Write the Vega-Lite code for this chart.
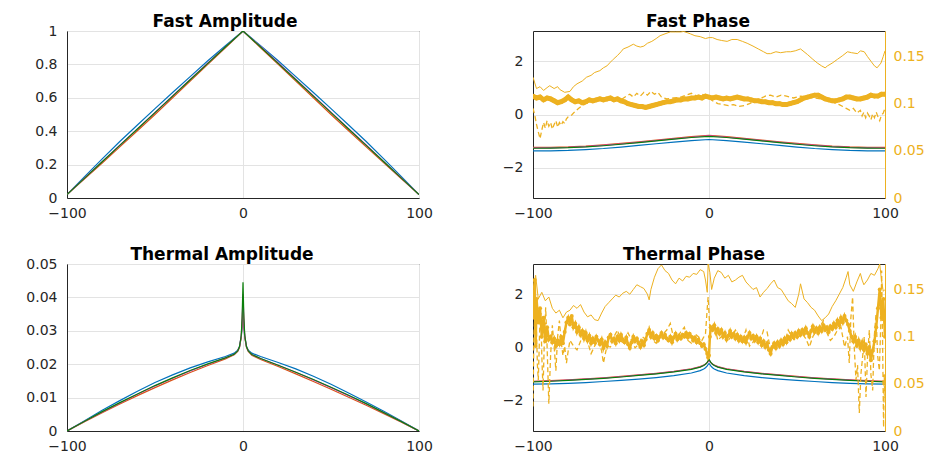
{
"$schema": "https://vega.github.io/schema/vega-lite/v6.json",
"background": "white",
"padding": {"left": 25, "top": 12, "right": 0, "bottom": 0},
"bounds": "flush",
"columns": 2,
"spacing": {"row": 66, "column": 114},
"config": {
  "view": {"stroke": "#262626", "strokeWidth": 1},
  "font": "DejaVu Sans",
  "axis": {"labelFont": "DejaVu Sans", "labelFontSize": 14, "labelColor": "#262626", "domainColor": "#262626", "ticks": false, "gridColor": "#e3e3e3", "gridWidth": 1, "labelPadding": 10},
  "axisX": {"labelPadding": 8},
  "title": {"font": "DejaVu Sans", "fontSize": 17, "fontWeight": "bold", "color": "#000000", "offset": 0}
},
"datasets": {
"fa": [
{"x":-100,"y":0.02,"s":"a"},{"x":-90,"y":0.128,"s":"a"},{"x":-80,"y":0.234,"s":"a"},{"x":-70,"y":0.338,"s":"a"},{"x":-60,"y":0.437,"s":"a"},{"x":-50,"y":0.535,"s":"a"},{"x":-40,"y":0.632,"s":"a"},{"x":-30,"y":0.727,"s":"a"},{"x":-20,"y":0.822,"s":"a"},{"x":-10,"y":0.912,"s":"a"},{"x":0,"y":1,"s":"a"},{"x":10,"y":0.912,"s":"a"},{"x":20,"y":0.822,"s":"a"},{"x":30,"y":0.727,"s":"a"},{"x":40,"y":0.632,"s":"a"},{"x":50,"y":0.535,"s":"a"},{"x":60,"y":0.437,"s":"a"},{"x":70,"y":0.338,"s":"a"},{"x":80,"y":0.234,"s":"a"},{"x":90,"y":0.128,"s":"a"},{"x":100,"y":0.02,"s":"a"},
{"x":-100,"y":0.02,"s":"b"},{"x":-90,"y":0.115,"s":"b"},{"x":-80,"y":0.21,"s":"b"},{"x":-70,"y":0.306,"s":"b"},{"x":-60,"y":0.403,"s":"b"},{"x":-50,"y":0.5,"s":"b"},{"x":-40,"y":0.6,"s":"b"},{"x":-30,"y":0.7,"s":"b"},{"x":-20,"y":0.8,"s":"b"},{"x":-10,"y":0.9,"s":"b"},{"x":0,"y":1,"s":"b"},{"x":10,"y":0.9,"s":"b"},{"x":20,"y":0.8,"s":"b"},{"x":30,"y":0.7,"s":"b"},{"x":40,"y":0.6,"s":"b"},{"x":50,"y":0.5,"s":"b"},{"x":60,"y":0.403,"s":"b"},{"x":70,"y":0.306,"s":"b"},{"x":80,"y":0.21,"s":"b"},{"x":90,"y":0.115,"s":"b"},{"x":100,"y":0.02,"s":"b"},
{"x":-100,"y":0.02,"s":"c"},{"x":-90,"y":0.12,"s":"c"},{"x":-80,"y":0.218,"s":"c"},{"x":-70,"y":0.316,"s":"c"},{"x":-60,"y":0.414,"s":"c"},{"x":-50,"y":0.512,"s":"c"},{"x":-40,"y":0.611,"s":"c"},{"x":-30,"y":0.71,"s":"c"},{"x":-20,"y":0.808,"s":"c"},{"x":-10,"y":0.905,"s":"c"},{"x":0,"y":1,"s":"c"},{"x":10,"y":0.907,"s":"c"},{"x":20,"y":0.81,"s":"c"},{"x":30,"y":0.712,"s":"c"},{"x":40,"y":0.613,"s":"c"},{"x":50,"y":0.514,"s":"c"},{"x":60,"y":0.415,"s":"c"},{"x":70,"y":0.317,"s":"c"},{"x":80,"y":0.218,"s":"c"},{"x":90,"y":0.12,"s":"c"},{"x":100,"y":0.02,"s":"c"},
{"x":-100,"y":0.02,"s":"d"},{"x":-90,"y":0.119,"s":"d"},{"x":-80,"y":0.217,"s":"d"},{"x":-70,"y":0.315,"s":"d"},{"x":-60,"y":0.413,"s":"d"},{"x":-50,"y":0.511,"s":"d"},{"x":-40,"y":0.61,"s":"d"},{"x":-30,"y":0.708,"s":"d"},{"x":-20,"y":0.806,"s":"d"},{"x":-10,"y":0.904,"s":"d"},{"x":0,"y":1,"s":"d"},{"x":10,"y":0.904,"s":"d"},{"x":20,"y":0.806,"s":"d"},{"x":30,"y":0.708,"s":"d"},{"x":40,"y":0.61,"s":"d"},{"x":50,"y":0.511,"s":"d"},{"x":60,"y":0.413,"s":"d"},{"x":70,"y":0.315,"s":"d"},{"x":80,"y":0.217,"s":"d"},{"x":90,"y":0.119,"s":"d"},{"x":100,"y":0.02,"s":"d"}
],
"ta": [
{"x":-100,"y":0,"s":"a"},{"x":-90,"y":0.0031,"s":"a"},{"x":-80,"y":0.0062,"s":"a"},{"x":-70,"y":0.0091,"s":"a"},{"x":-60,"y":0.0119,"s":"a"},{"x":-50,"y":0.0145,"s":"a"},{"x":-40,"y":0.0168,"s":"a"},{"x":-30,"y":0.0189,"s":"a"},{"x":-20,"y":0.0207,"s":"a"},{"x":-10,"y":0.0223,"s":"a"},{"x":-5,"y":0.0233,"s":"a"},{"x":-3,"y":0.0242,"s":"a"},{"x":-2,"y":0.0253,"s":"a"},{"x":-1,"y":0.0282,"s":"a"},{"x":-0.5,"y":0.031,"s":"a"},{"x":0,"y":0.036,"s":"a"},{"x":0.5,"y":0.031,"s":"a"},{"x":1,"y":0.0282,"s":"a"},{"x":2,"y":0.0253,"s":"a"},{"x":3,"y":0.0242,"s":"a"},{"x":5,"y":0.0233,"s":"a"},{"x":10,"y":0.0223,"s":"a"},{"x":20,"y":0.0205,"s":"a"},{"x":30,"y":0.0186,"s":"a"},{"x":40,"y":0.0164,"s":"a"},{"x":50,"y":0.014,"s":"a"},{"x":60,"y":0.0114,"s":"a"},{"x":70,"y":0.0087,"s":"a"},{"x":80,"y":0.0059,"s":"a"},{"x":90,"y":0.003,"s":"a"},{"x":100,"y":0,"s":"a"},
{"x":-100,"y":0,"s":"b"},{"x":-90,"y":0.0028,"s":"b"},{"x":-80,"y":0.0055,"s":"b"},{"x":-70,"y":0.0081,"s":"b"},{"x":-60,"y":0.0106,"s":"b"},{"x":-50,"y":0.013,"s":"b"},{"x":-40,"y":0.0153,"s":"b"},{"x":-30,"y":0.0175,"s":"b"},{"x":-20,"y":0.0196,"s":"b"},{"x":-10,"y":0.0216,"s":"b"},{"x":-5,"y":0.0228,"s":"b"},{"x":-3,"y":0.0238,"s":"b"},{"x":-2,"y":0.025,"s":"b"},{"x":-1,"y":0.028,"s":"b"},{"x":-0.5,"y":0.032,"s":"b"},{"x":0,"y":0.039,"s":"b"},{"x":0.5,"y":0.032,"s":"b"},{"x":1,"y":0.028,"s":"b"},{"x":2,"y":0.025,"s":"b"},{"x":3,"y":0.0238,"s":"b"},{"x":5,"y":0.0227,"s":"b"},{"x":10,"y":0.0214,"s":"b"},{"x":20,"y":0.0193,"s":"b"},{"x":30,"y":0.0171,"s":"b"},{"x":40,"y":0.0148,"s":"b"},{"x":50,"y":0.0125,"s":"b"},{"x":60,"y":0.0101,"s":"b"},{"x":70,"y":0.0077,"s":"b"},{"x":80,"y":0.0052,"s":"b"},{"x":90,"y":0.0026,"s":"b"},{"x":100,"y":0,"s":"b"},
{"x":-100,"y":0,"s":"c"},{"x":-90,"y":0.0029,"s":"c"},{"x":-80,"y":0.0057,"s":"c"},{"x":-70,"y":0.0084,"s":"c"},{"x":-60,"y":0.011,"s":"c"},{"x":-50,"y":0.0135,"s":"c"},{"x":-40,"y":0.0158,"s":"c"},{"x":-30,"y":0.018,"s":"c"},{"x":-20,"y":0.02,"s":"c"},{"x":-10,"y":0.0219,"s":"c"},{"x":-5,"y":0.023,"s":"c"},{"x":-3,"y":0.024,"s":"c"},{"x":-2,"y":0.0252,"s":"c"},{"x":-1,"y":0.0284,"s":"c"},{"x":-0.5,"y":0.033,"s":"c"},{"x":0,"y":0.041,"s":"c"},{"x":0.5,"y":0.033,"s":"c"},{"x":1,"y":0.0284,"s":"c"},{"x":2,"y":0.0252,"s":"c"},{"x":3,"y":0.024,"s":"c"},{"x":5,"y":0.0229,"s":"c"},{"x":10,"y":0.0217,"s":"c"},{"x":20,"y":0.0197,"s":"c"},{"x":30,"y":0.0176,"s":"c"},{"x":40,"y":0.0153,"s":"c"},{"x":50,"y":0.013,"s":"c"},{"x":60,"y":0.0106,"s":"c"},{"x":70,"y":0.0081,"s":"c"},{"x":80,"y":0.0055,"s":"c"},{"x":90,"y":0.0028,"s":"c"},{"x":100,"y":0,"s":"c"},
{"x":-100,"y":0,"s":"d"},{"x":-90,"y":0.0029,"s":"d"},{"x":-80,"y":0.0058,"s":"d"},{"x":-70,"y":0.0085,"s":"d"},{"x":-60,"y":0.0111,"s":"d"},{"x":-50,"y":0.0136,"s":"d"},{"x":-40,"y":0.0159,"s":"d"},{"x":-30,"y":0.0181,"s":"d"},{"x":-20,"y":0.0201,"s":"d"},{"x":-10,"y":0.0219,"s":"d"},{"x":-5,"y":0.023,"s":"d"},{"x":-3,"y":0.024,"s":"d"},{"x":-2,"y":0.0252,"s":"d"},{"x":-1,"y":0.0286,"s":"d"},{"x":-0.5,"y":0.034,"s":"d"},{"x":0,"y":0.0445,"s":"d"},{"x":0.5,"y":0.034,"s":"d"},{"x":1,"y":0.0286,"s":"d"},{"x":2,"y":0.0252,"s":"d"},{"x":3,"y":0.024,"s":"d"},{"x":5,"y":0.0229,"s":"d"},{"x":10,"y":0.0217,"s":"d"},{"x":20,"y":0.0197,"s":"d"},{"x":30,"y":0.0176,"s":"d"},{"x":40,"y":0.0154,"s":"d"},{"x":50,"y":0.0131,"s":"d"},{"x":60,"y":0.0107,"s":"d"},{"x":70,"y":0.0082,"s":"d"},{"x":80,"y":0.0055,"s":"d"},{"x":90,"y":0.0028,"s":"d"},{"x":100,"y":0,"s":"d"}
],
"fp": [
{"x":-100,"y":-1.37,"s":"a"},{"x":-90,"y":-1.365,"s":"a"},{"x":-80,"y":-1.35,"s":"a"},{"x":-70,"y":-1.32,"s":"a"},{"x":-60,"y":-1.28,"s":"a"},{"x":-50,"y":-1.225,"s":"a"},{"x":-40,"y":-1.165,"s":"a"},{"x":-30,"y":-1.1,"s":"a"},{"x":-20,"y":-1.04,"s":"a"},{"x":-10,"y":-0.98,"s":"a"},{"x":0,"y":-0.94,"s":"a"},{"x":10,"y":-0.98,"s":"a"},{"x":20,"y":-1.04,"s":"a"},{"x":30,"y":-1.1,"s":"a"},{"x":40,"y":-1.165,"s":"a"},{"x":50,"y":-1.225,"s":"a"},{"x":60,"y":-1.28,"s":"a"},{"x":70,"y":-1.32,"s":"a"},{"x":80,"y":-1.35,"s":"a"},{"x":90,"y":-1.365,"s":"a"},{"x":100,"y":-1.37,"s":"a"},
{"x":-100,"y":-1.24,"s":"b"},{"x":-90,"y":-1.235,"s":"b"},{"x":-80,"y":-1.22,"s":"b"},{"x":-70,"y":-1.19,"s":"b"},{"x":-60,"y":-1.145,"s":"b"},{"x":-50,"y":-1.09,"s":"b"},{"x":-40,"y":-1.03,"s":"b"},{"x":-30,"y":-0.965,"s":"b"},{"x":-20,"y":-0.9,"s":"b"},{"x":-10,"y":-0.835,"s":"b"},{"x":0,"y":-0.78,"s":"b"},{"x":10,"y":-0.835,"s":"b"},{"x":20,"y":-0.9,"s":"b"},{"x":30,"y":-0.965,"s":"b"},{"x":40,"y":-1.03,"s":"b"},{"x":50,"y":-1.09,"s":"b"},{"x":60,"y":-1.145,"s":"b"},{"x":70,"y":-1.19,"s":"b"},{"x":80,"y":-1.22,"s":"b"},{"x":90,"y":-1.235,"s":"b"},{"x":100,"y":-1.24,"s":"b"},
{"x":-100,"y":-1.26,"s":"c"},{"x":-90,"y":-1.255,"s":"c"},{"x":-80,"y":-1.24,"s":"c"},{"x":-70,"y":-1.21,"s":"c"},{"x":-60,"y":-1.165,"s":"c"},{"x":-50,"y":-1.11,"s":"c"},{"x":-40,"y":-1.05,"s":"c"},{"x":-30,"y":-0.985,"s":"c"},{"x":-20,"y":-0.92,"s":"c"},{"x":-10,"y":-0.855,"s":"c"},{"x":0,"y":-0.8,"s":"c"},{"x":10,"y":-0.855,"s":"c"},{"x":20,"y":-0.92,"s":"c"},{"x":30,"y":-0.985,"s":"c"},{"x":40,"y":-1.05,"s":"c"},{"x":50,"y":-1.11,"s":"c"},{"x":60,"y":-1.165,"s":"c"},{"x":70,"y":-1.21,"s":"c"},{"x":80,"y":-1.24,"s":"c"},{"x":90,"y":-1.255,"s":"c"},{"x":100,"y":-1.26,"s":"c"},
{"x":-100,"y":-1.27,"s":"d"},{"x":-90,"y":-1.265,"s":"d"},{"x":-80,"y":-1.25,"s":"d"},{"x":-70,"y":-1.22,"s":"d"},{"x":-60,"y":-1.175,"s":"d"},{"x":-50,"y":-1.12,"s":"d"},{"x":-40,"y":-1.06,"s":"d"},{"x":-30,"y":-0.995,"s":"d"},{"x":-20,"y":-0.93,"s":"d"},{"x":-10,"y":-0.865,"s":"d"},{"x":0,"y":-0.82,"s":"d"},{"x":10,"y":-0.865,"s":"d"},{"x":20,"y":-0.93,"s":"d"},{"x":30,"y":-0.995,"s":"d"},{"x":40,"y":-1.06,"s":"d"},{"x":50,"y":-1.12,"s":"d"},{"x":60,"y":-1.175,"s":"d"},{"x":70,"y":-1.22,"s":"d"},{"x":80,"y":-1.25,"s":"d"},{"x":90,"y":-1.265,"s":"d"},{"x":100,"y":-1.27,"s":"d"}
],
"tp": [
{"x":-100,"y":-1.38,"s":"a"},{"x":-90,"y":-1.37,"s":"a"},{"x":-80,"y":-1.35,"s":"a"},{"x":-70,"y":-1.32,"s":"a"},{"x":-60,"y":-1.28,"s":"a"},{"x":-50,"y":-1.24,"s":"a"},{"x":-40,"y":-1.19,"s":"a"},{"x":-30,"y":-1.13,"s":"a"},{"x":-20,"y":-1.06,"s":"a"},{"x":-10,"y":-0.96,"s":"a"},{"x":-5,"y":-0.87,"s":"a"},{"x":-3,"y":-0.81,"s":"a"},{"x":-2,"y":-0.76,"s":"a"},{"x":-1,"y":-0.69,"s":"a"},{"x":-0.5,"y":-0.64,"s":"a"},{"x":0,"y":-0.6,"s":"a"},{"x":0.5,"y":-0.64,"s":"a"},{"x":1,"y":-0.69,"s":"a"},{"x":2,"y":-0.76,"s":"a"},{"x":3,"y":-0.81,"s":"a"},{"x":5,"y":-0.87,"s":"a"},{"x":10,"y":-0.96,"s":"a"},{"x":20,"y":-1.06,"s":"a"},{"x":30,"y":-1.13,"s":"a"},{"x":40,"y":-1.19,"s":"a"},{"x":50,"y":-1.24,"s":"a"},{"x":60,"y":-1.28,"s":"a"},{"x":70,"y":-1.32,"s":"a"},{"x":80,"y":-1.35,"s":"a"},{"x":90,"y":-1.37,"s":"a"},{"x":100,"y":-1.38,"s":"a"},
{"x":-100,"y":-1.27,"s":"b"},{"x":-90,"y":-1.25,"s":"b"},{"x":-80,"y":-1.22,"s":"b"},{"x":-70,"y":-1.18,"s":"b"},{"x":-60,"y":-1.14,"s":"b"},{"x":-50,"y":-1.09,"s":"b"},{"x":-40,"y":-1.03,"s":"b"},{"x":-30,"y":-0.97,"s":"b"},{"x":-20,"y":-0.9,"s":"b"},{"x":-10,"y":-0.8,"s":"b"},{"x":-5,"y":-0.72,"s":"b"},{"x":-3,"y":-0.66,"s":"b"},{"x":-2,"y":-0.62,"s":"b"},{"x":-1,"y":-0.56,"s":"b"},{"x":-0.5,"y":-0.52,"s":"b"},{"x":0,"y":-0.48,"s":"b"},{"x":0.5,"y":-0.52,"s":"b"},{"x":1,"y":-0.56,"s":"b"},{"x":2,"y":-0.62,"s":"b"},{"x":3,"y":-0.66,"s":"b"},{"x":5,"y":-0.72,"s":"b"},{"x":10,"y":-0.8,"s":"b"},{"x":20,"y":-0.9,"s":"b"},{"x":30,"y":-0.97,"s":"b"},{"x":40,"y":-1.03,"s":"b"},{"x":50,"y":-1.09,"s":"b"},{"x":60,"y":-1.14,"s":"b"},{"x":70,"y":-1.18,"s":"b"},{"x":80,"y":-1.22,"s":"b"},{"x":90,"y":-1.25,"s":"b"},{"x":100,"y":-1.27,"s":"b"},
{"x":-100,"y":-1.28,"s":"c"},{"x":-90,"y":-1.26,"s":"c"},{"x":-80,"y":-1.23,"s":"c"},{"x":-70,"y":-1.19,"s":"c"},{"x":-60,"y":-1.15,"s":"c"},{"x":-50,"y":-1.1,"s":"c"},{"x":-40,"y":-1.04,"s":"c"},{"x":-30,"y":-0.98,"s":"c"},{"x":-20,"y":-0.91,"s":"c"},{"x":-10,"y":-0.81,"s":"c"},{"x":-5,"y":-0.73,"s":"c"},{"x":-3,"y":-0.67,"s":"c"},{"x":-2,"y":-0.63,"s":"c"},{"x":-1,"y":-0.57,"s":"c"},{"x":-0.5,"y":-0.52,"s":"c"},{"x":0,"y":-0.48,"s":"c"},{"x":0.5,"y":-0.52,"s":"c"},{"x":1,"y":-0.57,"s":"c"},{"x":2,"y":-0.63,"s":"c"},{"x":3,"y":-0.67,"s":"c"},{"x":5,"y":-0.73,"s":"c"},{"x":10,"y":-0.81,"s":"c"},{"x":20,"y":-0.91,"s":"c"},{"x":30,"y":-0.98,"s":"c"},{"x":40,"y":-1.04,"s":"c"},{"x":50,"y":-1.1,"s":"c"},{"x":60,"y":-1.15,"s":"c"},{"x":70,"y":-1.19,"s":"c"},{"x":80,"y":-1.23,"s":"c"},{"x":90,"y":-1.26,"s":"c"},{"x":100,"y":-1.28,"s":"c"},
{"x":-100,"y":-1.29,"s":"d"},{"x":-90,"y":-1.27,"s":"d"},{"x":-80,"y":-1.24,"s":"d"},{"x":-70,"y":-1.2,"s":"d"},{"x":-60,"y":-1.16,"s":"d"},{"x":-50,"y":-1.11,"s":"d"},{"x":-40,"y":-1.05,"s":"d"},{"x":-30,"y":-0.99,"s":"d"},{"x":-20,"y":-0.92,"s":"d"},{"x":-10,"y":-0.82,"s":"d"},{"x":-5,"y":-0.74,"s":"d"},{"x":-3,"y":-0.68,"s":"d"},{"x":-2,"y":-0.63,"s":"d"},{"x":-1,"y":-0.56,"s":"d"},{"x":-0.5,"y":-0.5,"s":"d"},{"x":0,"y":-0.45,"s":"d"},{"x":0.5,"y":-0.5,"s":"d"},{"x":1,"y":-0.56,"s":"d"},{"x":2,"y":-0.63,"s":"d"},{"x":3,"y":-0.68,"s":"d"},{"x":5,"y":-0.74,"s":"d"},{"x":10,"y":-0.82,"s":"d"},{"x":20,"y":-0.92,"s":"d"},{"x":30,"y":-0.99,"s":"d"},{"x":40,"y":-1.05,"s":"d"},{"x":50,"y":-1.11,"s":"d"},{"x":60,"y":-1.16,"s":"d"},{"x":70,"y":-1.2,"s":"d"},{"x":80,"y":-1.24,"s":"d"},{"x":90,"y":-1.27,"s":"d"},{"x":100,"y":-1.29,"s":"d"}
],
"fpThin": [
{"x":-100,"v":0.128},{"x":-99,"v":0.122},{"x":-98,"v":0.116},{"x":-96,"v":0.118},{"x":-94,"v":0.114},{"x":-92,"v":0.117},{"x":-90.5,"v":0.119},{"x":-88,"v":0.116},{"x":-86,"v":0.118},{"x":-84.8,"v":0.115},{"x":-82,"v":0.112},{"x":-79,"v":0.113},{"x":-77,"v":0.118},{"x":-75,"v":0.121},{"x":-72,"v":0.124},{"x":-69.6,"v":0.128},{"x":-67,"v":0.13},{"x":-65,"v":0.133},{"x":-62,"v":0.135},{"x":-60,"v":0.138},{"x":-58,"v":0.14},{"x":-56,"v":0.144},{"x":-54.4,"v":0.147},{"x":-52,"v":0.151},{"x":-50,"v":0.155},{"x":-48.7,"v":0.158},{"x":-46,"v":0.16},{"x":-43,"v":0.163},{"x":-41,"v":0.161},{"x":-39,"v":0.16},{"x":-37,"v":0.161},{"x":-35,"v":0.164},{"x":-32.5,"v":0.166},{"x":-30,"v":0.169},{"x":-27.8,"v":0.172},{"x":-25,"v":0.174},{"x":-22,"v":0.176},{"x":-19,"v":0.176},{"x":-16,"v":0.176},{"x":-14.4,"v":0.1765},{"x":-12,"v":0.175},{"x":-10.6,"v":0.174},{"x":-8,"v":0.172},{"x":-5,"v":0.171},{"x":-2,"v":0.169},{"x":0,"v":0.17},{"x":2,"v":0.17},{"x":4.6,"v":0.168},{"x":7,"v":0.167},{"x":10.3,"v":0.166},{"x":13,"v":0.168},{"x":16,"v":0.168},{"x":19,"v":0.166},{"x":21.7,"v":0.164},{"x":25,"v":0.161},{"x":28,"v":0.158},{"x":31,"v":0.155},{"x":33,"v":0.153},{"x":35,"v":0.153},{"x":38,"v":0.155},{"x":40.7,"v":0.154},{"x":44,"v":0.155},{"x":46.4,"v":0.155},{"x":49,"v":0.156},{"x":52,"v":0.158},{"x":54,"v":0.155},{"x":56,"v":0.152},{"x":59,"v":0.147},{"x":61.6,"v":0.143},{"x":64,"v":0.14},{"x":66,"v":0.138},{"x":67.3,"v":0.14},{"x":70,"v":0.143},{"x":73,"v":0.147},{"x":76,"v":0.151},{"x":78.7,"v":0.155},{"x":81,"v":0.154},{"x":84.4,"v":0.153},{"x":86,"v":0.156},{"x":88.2,"v":0.155},{"x":90,"v":0.15},{"x":92,"v":0.145},{"x":94,"v":0.14},{"x":95.5,"v":0.138},{"x":97.7,"v":0.143},{"x":99,"v":0.15},{"x":100,"v":0.156}
],
"fpThick": [
{"x":-100,"v":0.108},{"x":-98,"v":0.106},{"x":-96,"v":0.107},{"x":-94,"v":0.104},{"x":-92,"v":0.106},{"x":-90,"v":0.105},{"x":-88,"v":0.103},{"x":-86,"v":0.101},{"x":-84,"v":0.102},{"x":-82,"v":0.104},{"x":-80,"v":0.107},{"x":-78,"v":0.104},{"x":-76,"v":0.102},{"x":-74,"v":0.103},{"x":-72,"v":0.101},{"x":-70,"v":0.102},{"x":-68,"v":0.104},{"x":-66,"v":0.103},{"x":-64,"v":0.104},{"x":-62,"v":0.105},{"x":-60,"v":0.104},{"x":-58,"v":0.105},{"x":-56,"v":0.106},{"x":-54,"v":0.104},{"x":-52,"v":0.105},{"x":-50,"v":0.103},{"x":-48,"v":0.102},{"x":-46,"v":0.1},{"x":-44,"v":0.099},{"x":-42,"v":0.098},{"x":-40,"v":0.097},{"x":-38,"v":0.097},{"x":-36,"v":0.096},{"x":-34,"v":0.097},{"x":-32,"v":0.098},{"x":-30,"v":0.099},{"x":-28,"v":0.1},{"x":-26,"v":0.101},{"x":-24,"v":0.102},{"x":-22,"v":0.102},{"x":-20,"v":0.103},{"x":-18,"v":0.104},{"x":-16,"v":0.104},{"x":-14,"v":0.105},{"x":-12,"v":0.105},{"x":-10,"v":0.106},{"x":-8,"v":0.106},{"x":-6,"v":0.107},{"x":-4,"v":0.106},{"x":-2,"v":0.108},{"x":0,"v":0.107},{"x":2,"v":0.106},{"x":4,"v":0.107},{"x":6,"v":0.106},{"x":8,"v":0.105},{"x":10,"v":0.106},{"x":12,"v":0.105},{"x":14,"v":0.106},{"x":16,"v":0.107},{"x":18,"v":0.106},{"x":20,"v":0.105},{"x":22,"v":0.105},{"x":24,"v":0.104},{"x":26,"v":0.103},{"x":28,"v":0.103},{"x":30,"v":0.102},{"x":32,"v":0.102},{"x":34,"v":0.101},{"x":36,"v":0.101},{"x":38,"v":0.1},{"x":40,"v":0.1},{"x":42,"v":0.099},{"x":44,"v":0.099},{"x":46,"v":0.1},{"x":48,"v":0.101},{"x":50,"v":0.102},{"x":52,"v":0.104},{"x":54,"v":0.106},{"x":56,"v":0.107},{"x":58,"v":0.108},{"x":60,"v":0.109},{"x":62,"v":0.109},{"x":64,"v":0.107},{"x":66,"v":0.105},{"x":68,"v":0.104},{"x":70,"v":0.103},{"x":72,"v":0.103},{"x":74,"v":0.104},{"x":76,"v":0.105},{"x":78,"v":0.107},{"x":80,"v":0.107},{"x":82,"v":0.106},{"x":84,"v":0.105},{"x":86,"v":0.105},{"x":88,"v":0.106},{"x":90,"v":0.107},{"x":92,"v":0.109},{"x":94,"v":0.108},{"x":96,"v":0.108},{"x":98,"v":0.11},{"x":100,"v":0.11}
],
"fpDash": [
{"x":-100,"v":0.095},{"x":-99,"v":0.088},{"x":-98,"v":0.078},{"x":-97,"v":0.07},{"x":-96,"v":0.063},{"x":-95,"v":0.072},{"x":-94,"v":0.08},{"x":-93,"v":0.074},{"x":-92,"v":0.082},{"x":-91,"v":0.076},{"x":-90,"v":0.08},{"x":-89,"v":0.073},{"x":-88,"v":0.078},{"x":-87,"v":0.082},{"x":-86,"v":0.075},{"x":-85,"v":0.08},{"x":-84,"v":0.077},{"x":-83,"v":0.081},{"x":-82,"v":0.079},{"x":-81,"v":0.084},{"x":-80,"v":0.086},{"x":-78,"v":0.088},{"x":-76,"v":0.092},{"x":-74,"v":0.095},{"x":-72,"v":0.098},{"x":-70,"v":0.1},{"x":-66,"v":0.102},{"x":-62,"v":0.104},{"x":-58,"v":0.103},{"x":-54,"v":0.105},{"x":-50,"v":0.104},{"x":-47,"v":0.108},{"x":-45,"v":0.11},{"x":-43,"v":0.107},{"x":-41,"v":0.111},{"x":-39,"v":0.108},{"x":-37,"v":0.112},{"x":-35,"v":0.109},{"x":-33,"v":0.113},{"x":-31,"v":0.11},{"x":-29,"v":0.112},{"x":-27,"v":0.107},{"x":-24,"v":0.105},{"x":-20,"v":0.106},{"x":-16,"v":0.107},{"x":-13,"v":0.109},{"x":-10,"v":0.111},{"x":-7,"v":0.108},{"x":-4,"v":0.11},{"x":-1,"v":0.107},{"x":2,"v":0.103},{"x":5,"v":0.1},{"x":8,"v":0.099},{"x":11,"v":0.098},{"x":14,"v":0.099},{"x":17,"v":0.097},{"x":20,"v":0.098},{"x":23,"v":0.1},{"x":26,"v":0.103},{"x":29,"v":0.105},{"x":32,"v":0.108},{"x":35,"v":0.109},{"x":38,"v":0.107},{"x":41,"v":0.109},{"x":44,"v":0.108},{"x":48,"v":0.106},{"x":52,"v":0.108},{"x":56,"v":0.107},{"x":60,"v":0.106},{"x":64,"v":0.105},{"x":68,"v":0.104},{"x":71,"v":0.101},{"x":74,"v":0.099},{"x":76,"v":0.097},{"x":78,"v":0.095},{"x":80,"v":0.093},{"x":82,"v":0.095},{"x":84,"v":0.09},{"x":86,"v":0.093},{"x":87,"v":0.087},{"x":88,"v":0.091},{"x":89,"v":0.085},{"x":90,"v":0.09},{"x":91,"v":0.087},{"x":92,"v":0.083},{"x":93,"v":0.089},{"x":94,"v":0.085},{"x":95,"v":0.091},{"x":96,"v":0.086},{"x":97,"v":0.082},{"x":98,"v":0.088},{"x":99,"v":0.09},{"x":100,"v":0.095}
],
"tpThin": [
{"x":-100,"v":0.15},{"x":-98.5,"v":0.165},{"x":-97,"v":0.14},{"x":-95,"v":0.147},{"x":-93,"v":0.138},{"x":-91,"v":0.142},{"x":-89,"v":0.13},{"x":-87,"v":0.125},{"x":-85,"v":0.128},{"x":-83,"v":0.12},{"x":-81,"v":0.126},{"x":-79,"v":0.128},{"x":-77,"v":0.133},{"x":-75,"v":0.13},{"x":-73,"v":0.134},{"x":-71,"v":0.126},{"x":-69,"v":0.121},{"x":-67,"v":0.123},{"x":-65,"v":0.118},{"x":-63,"v":0.117},{"x":-61,"v":0.125},{"x":-59,"v":0.132},{"x":-57,"v":0.136},{"x":-55,"v":0.14},{"x":-53,"v":0.144},{"x":-51,"v":0.142},{"x":-49,"v":0.146},{"x":-47,"v":0.148},{"x":-45,"v":0.145},{"x":-43,"v":0.15},{"x":-41,"v":0.155},{"x":-39,"v":0.153},{"x":-37,"v":0.151},{"x":-35,"v":0.145},{"x":-34,"v":0.139},{"x":-33,"v":0.15},{"x":-31,"v":0.163},{"x":-29,"v":0.172},{"x":-27,"v":0.176},{"x":-25,"v":0.17},{"x":-23,"v":0.167},{"x":-21,"v":0.16},{"x":-19,"v":0.156},{"x":-17,"v":0.162},{"x":-15,"v":0.159},{"x":-13,"v":0.164},{"x":-11,"v":0.163},{"x":-9,"v":0.167},{"x":-7,"v":0.166},{"x":-5,"v":0.171},{"x":-3,"v":0.169},{"x":-2,"v":0.16},{"x":-1,"v":0.147},{"x":-0.5,"v":0.177},{"x":0.5,"v":0.168},{"x":1.5,"v":0.15},{"x":3,"v":0.162},{"x":5,"v":0.17},{"x":7,"v":0.168},{"x":9,"v":0.162},{"x":11,"v":0.165},{"x":13,"v":0.158},{"x":15,"v":0.16},{"x":17,"v":0.163},{"x":19,"v":0.165},{"x":21,"v":0.158},{"x":23,"v":0.154},{"x":25,"v":0.15},{"x":27,"v":0.152},{"x":29,"v":0.142},{"x":31,"v":0.147},{"x":33,"v":0.151},{"x":35,"v":0.156},{"x":37,"v":0.16},{"x":39,"v":0.152},{"x":41,"v":0.15},{"x":43,"v":0.144},{"x":45,"v":0.138},{"x":47,"v":0.135},{"x":49,"v":0.131},{"x":51,"v":0.145},{"x":52,"v":0.156},{"x":54,"v":0.14},{"x":56,"v":0.136},{"x":58,"v":0.131},{"x":60,"v":0.128},{"x":62,"v":0.122},{"x":64,"v":0.117},{"x":66,"v":0.12},{"x":68,"v":0.124},{"x":70,"v":0.132},{"x":72,"v":0.138},{"x":74,"v":0.145},{"x":76,"v":0.152},{"x":78,"v":0.163},{"x":79,"v":0.169},{"x":80,"v":0.155},{"x":82,"v":0.148},{"x":84,"v":0.158},{"x":86,"v":0.167},{"x":87,"v":0.16},{"x":88,"v":0.155},{"x":90,"v":0.16},{"x":92,"v":0.167},{"x":94,"v":0.165},{"x":96,"v":0.172},{"x":97,"v":0.177},{"x":98,"v":0.16},{"x":99,"v":0.148},{"x":100,"v":0.15}
],
"tpThick": [
{"x":-100,"v":0.12},{"x":-99,"v":0.16},{"x":-98.5,"v":0.09},{"x":-98,"v":0.14},{"x":-97,"v":0.115},{"x":-96,"v":0.13},{"x":-95,"v":0.1},{"x":-94,"v":0.12},{"x":-93,"v":0.095},{"x":-92,"v":0.11},{"x":-91,"v":0.097},{"x":-90,"v":0.1},{"x":-89,"v":0.094},{"x":-88,"v":0.098},{"x":-87,"v":0.09},{"x":-86,"v":0.096},{"x":-85,"v":0.092},{"x":-84,"v":0.1},{"x":-83,"v":0.093},{"x":-82,"v":0.105},{"x":-81,"v":0.115},{"x":-80,"v":0.12},{"x":-79,"v":0.113},{"x":-78,"v":0.122},{"x":-77,"v":0.11},{"x":-76,"v":0.114},{"x":-75,"v":0.105},{"x":-74,"v":0.11},{"x":-73,"v":0.102},{"x":-72,"v":0.106},{"x":-71,"v":0.098},{"x":-70,"v":0.104},{"x":-69,"v":0.096},{"x":-68,"v":0.101},{"x":-67,"v":0.093},{"x":-66,"v":0.098},{"x":-65,"v":0.094},{"x":-64,"v":0.1},{"x":-63,"v":0.096},{"x":-62,"v":0.092},{"x":-61,"v":0.097},{"x":-60,"v":0.088},{"x":-59,"v":0.094},{"x":-58,"v":0.09},{"x":-57,"v":0.099},{"x":-56,"v":0.102},{"x":-55,"v":0.095},{"x":-54,"v":0.098},{"x":-53,"v":0.093},{"x":-52,"v":0.1},{"x":-51,"v":0.096},{"x":-50,"v":0.102},{"x":-49,"v":0.097},{"x":-48,"v":0.094},{"x":-47,"v":0.099},{"x":-46,"v":0.092},{"x":-45,"v":0.088},{"x":-44,"v":0.094},{"x":-43,"v":0.1},{"x":-42,"v":0.095},{"x":-41,"v":0.098},{"x":-40,"v":0.093},{"x":-39,"v":0.089},{"x":-38,"v":0.095},{"x":-37,"v":0.091},{"x":-36,"v":0.097},{"x":-35,"v":0.103},{"x":-34,"v":0.107},{"x":-33,"v":0.1},{"x":-32,"v":0.104},{"x":-31,"v":0.098},{"x":-30,"v":0.101},{"x":-29,"v":0.096},{"x":-28,"v":0.1},{"x":-27,"v":0.104},{"x":-26,"v":0.099},{"x":-25,"v":0.102},{"x":-24,"v":0.098},{"x":-23,"v":0.096},{"x":-22,"v":0.1},{"x":-21,"v":0.094},{"x":-20,"v":0.099},{"x":-19,"v":0.103},{"x":-18,"v":0.097},{"x":-17,"v":0.101},{"x":-16,"v":0.098},{"x":-15,"v":0.102},{"x":-14,"v":0.1},{"x":-13,"v":0.104},{"x":-12,"v":0.099},{"x":-11,"v":0.103},{"x":-10,"v":0.1},{"x":-9,"v":0.096},{"x":-8,"v":0.099},{"x":-7,"v":0.094},{"x":-6,"v":0.097},{"x":-5,"v":0.093},{"x":-4,"v":0.09},{"x":-3,"v":0.092},{"x":-2,"v":0.087},{"x":-1,"v":0.082},{"x":-0.5,"v":0.078},{"x":0,"v":0.08},{"x":0.5,"v":0.1},{"x":1,"v":0.11},{"x":2,"v":0.107},{"x":3,"v":0.112},{"x":4,"v":0.104},{"x":5,"v":0.108},{"x":6,"v":0.103},{"x":7,"v":0.107},{"x":8,"v":0.1},{"x":9,"v":0.104},{"x":10,"v":0.097},{"x":11,"v":0.101},{"x":12,"v":0.106},{"x":13,"v":0.1},{"x":14,"v":0.103},{"x":15,"v":0.098},{"x":16,"v":0.102},{"x":17,"v":0.096},{"x":18,"v":0.1},{"x":19,"v":0.095},{"x":20,"v":0.099},{"x":21,"v":0.094},{"x":22,"v":0.1},{"x":23,"v":0.104},{"x":24,"v":0.098},{"x":25,"v":0.101},{"x":26,"v":0.096},{"x":27,"v":0.1},{"x":28,"v":0.094},{"x":29,"v":0.098},{"x":30,"v":0.091},{"x":31,"v":0.095},{"x":32,"v":0.089},{"x":33,"v":0.093},{"x":34,"v":0.086},{"x":35,"v":0.082},{"x":36,"v":0.089},{"x":37,"v":0.093},{"x":38,"v":0.088},{"x":39,"v":0.094},{"x":40,"v":0.09},{"x":41,"v":0.096},{"x":42,"v":0.092},{"x":43,"v":0.098},{"x":44,"v":0.094},{"x":45,"v":0.1},{"x":46,"v":0.097},{"x":47,"v":0.103},{"x":48,"v":0.099},{"x":49,"v":0.104},{"x":50,"v":0.1},{"x":51,"v":0.106},{"x":52,"v":0.102},{"x":53,"v":0.107},{"x":54,"v":0.103},{"x":55,"v":0.109},{"x":56,"v":0.104},{"x":57,"v":0.1},{"x":58,"v":0.106},{"x":59,"v":0.111},{"x":60,"v":0.105},{"x":61,"v":0.109},{"x":62,"v":0.104},{"x":63,"v":0.11},{"x":64,"v":0.106},{"x":65,"v":0.112},{"x":66,"v":0.107},{"x":67,"v":0.11},{"x":68,"v":0.105},{"x":69,"v":0.111},{"x":70,"v":0.108},{"x":71,"v":0.114},{"x":72,"v":0.11},{"x":73,"v":0.117},{"x":74,"v":0.112},{"x":75,"v":0.12},{"x":76,"v":0.115},{"x":77,"v":0.122},{"x":78,"v":0.117},{"x":79,"v":0.113},{"x":80,"v":0.106},{"x":81,"v":0.1},{"x":82,"v":0.095},{"x":83,"v":0.1},{"x":84,"v":0.09},{"x":85,"v":0.096},{"x":86,"v":0.088},{"x":87,"v":0.094},{"x":88,"v":0.086},{"x":89,"v":0.092},{"x":90,"v":0.082},{"x":91,"v":0.089},{"x":92,"v":0.075},{"x":93,"v":0.085},{"x":94,"v":0.095},{"x":95,"v":0.11},{"x":96,"v":0.13},{"x":97,"v":0.15},{"x":98,"v":0.12},{"x":99,"v":0.14},{"x":100,"v":0.1}
],
"tpDash": [
{"x":-100,"v":0.026},{"x":-99.5,"v":0.1},{"x":-98.5,"v":0.142},{"x":-97.5,"v":0.07},{"x":-97,"v":0.054},{"x":-96,"v":0.12},{"x":-95.5,"v":0.125},{"x":-95,"v":0.08},{"x":-94.3,"v":0.043},{"x":-93.5,"v":0.1},{"x":-92.8,"v":0.131},{"x":-92,"v":0.09},{"x":-91,"v":0.029},{"x":-90,"v":0.08},{"x":-89,"v":0.112},{"x":-88,"v":0.09},{"x":-87,"v":0.064},{"x":-86,"v":0.1},{"x":-85,"v":0.117},{"x":-84,"v":0.095},{"x":-83,"v":0.08},{"x":-82,"v":0.09},{"x":-81,"v":0.072},{"x":-80,"v":0.085},{"x":-79,"v":0.096},{"x":-77,"v":0.09},{"x":-75,"v":0.086},{"x":-73,"v":0.095},{"x":-71,"v":0.107},{"x":-69,"v":0.095},{"x":-67,"v":0.082},{"x":-65,"v":0.09},{"x":-63,"v":0.096},{"x":-61,"v":0.085},{"x":-60,"v":0.072},{"x":-58,"v":0.09},{"x":-56,"v":0.089},{"x":-54,"v":0.1},{"x":-52,"v":0.107},{"x":-50,"v":0.095},{"x":-48,"v":0.093},{"x":-46,"v":0.104},{"x":-44,"v":0.096},{"x":-42,"v":0.088},{"x":-40,"v":0.092},{"x":-38,"v":0.1},{"x":-36,"v":0.097},{"x":-34,"v":0.11},{"x":-32,"v":0.096},{"x":-30,"v":0.093},{"x":-28,"v":0.1},{"x":-26,"v":0.103},{"x":-24,"v":0.107},{"x":-22,"v":0.114},{"x":-20,"v":0.098},{"x":-18,"v":0.1},{"x":-16,"v":0.105},{"x":-14,"v":0.11},{"x":-12,"v":0.096},{"x":-10,"v":0.093},{"x":-8,"v":0.103},{"x":-6,"v":0.1},{"x":-4,"v":0.096},{"x":-2,"v":0.103},{"x":-1,"v":0.13},{"x":-0.5,"v":0.142},{"x":0.5,"v":0.107},{"x":1,"v":0.11},{"x":3,"v":0.113},{"x":5,"v":0.096},{"x":7,"v":0.1},{"x":9,"v":0.103},{"x":11,"v":0.096},{"x":13,"v":0.101},{"x":15,"v":0.107},{"x":17,"v":0.1},{"x":19,"v":0.096},{"x":21,"v":0.107},{"x":23,"v":0.09},{"x":25,"v":0.094},{"x":27,"v":0.102},{"x":29,"v":0.095},{"x":31,"v":0.107},{"x":33,"v":0.105},{"x":35,"v":0.086},{"x":37,"v":0.09},{"x":39,"v":0.096},{"x":41,"v":0.089},{"x":43,"v":0.094},{"x":45,"v":0.107},{"x":47,"v":0.1},{"x":49,"v":0.096},{"x":51,"v":0.1},{"x":53,"v":0.103},{"x":55,"v":0.098},{"x":57,"v":0.089},{"x":59,"v":0.1},{"x":61,"v":0.107},{"x":63,"v":0.11},{"x":65,"v":0.117},{"x":67,"v":0.104},{"x":69,"v":0.096},{"x":71,"v":0.1},{"x":73,"v":0.107},{"x":75,"v":0.11},{"x":77,"v":0.089},{"x":78.7,"v":0.1},{"x":79.7,"v":0.072},{"x":80.6,"v":0.12},{"x":81.6,"v":0.142},{"x":82.5,"v":0.09},{"x":83.5,"v":0.054},{"x":84.4,"v":0.07},{"x":85.4,"v":0.019},{"x":86.3,"v":0.06},{"x":87.3,"v":0.079},{"x":88.2,"v":0.1},{"x":89.2,"v":0.036},{"x":90.1,"v":0.08},{"x":91.1,"v":0.107},{"x":92,"v":0.06},{"x":93,"v":0.043},{"x":93.9,"v":0.1},{"x":94.9,"v":0.124},{"x":95.8,"v":0.08},{"x":96.8,"v":0.064},{"x":97.7,"v":0.12},{"x":98.1,"v":0.17},{"x":98.6,"v":0.1},{"x":99.2,"v":0.004},{"x":99.6,"v":0.06},{"x":100,"v":0.035}
]
},
"concat": [
{
  "width": 352, "height": 167,
  "title": {"text": "Fast Amplitude", "dx": -18, "offset": -7},
  "data": {"name": "fa"},
  "mark": {"type": "line", "strokeWidth": 1.2, "clip": true},
  "encoding": {
    "x": {"field": "x", "type": "quantitative", "scale": {"domain": [-100, 100], "nice": false}, "axis": {"values": [-100, 0, 100], "title": null, "labelFlush": false, "grid": true}},
    "y": {"field": "y", "type": "quantitative", "scale": {"domain": [0, 1], "nice": false}, "axis": {"values": [0, 0.2, 0.4, 0.6, 0.8, 1], "format": "~g", "title": null, "grid": true}},
    "color": {"field": "s", "type": "nominal", "scale": {"domain": ["a", "b", "c", "d"], "range": ["#0072BD", "#D95319", "#D63CD6", "#0A7F0A"]}, "legend": null}
  }
},
{
  "width": 352, "height": 167,
  "title": {"text": "Fast Phase", "dx": -11, "offset": 0},
  "layer": [
    {
      "data": {"name": "fp"},
      "mark": {"type": "line", "strokeWidth": 1.2, "clip": true},
      "encoding": {
        "x": {"field": "x", "type": "quantitative", "scale": {"domain": [-100, 100], "nice": false}, "axis": {"values": [-100, 0, 100], "title": null, "labelFlush": false, "grid": true}},
        "y": {"field": "y", "type": "quantitative", "scale": {"domain": [-3.1416, 3.1416], "nice": false}, "axis": {"values": [-2, 0, 2], "title": null, "grid": true}},
        "color": {"field": "s", "type": "nominal", "scale": {"domain": ["a", "b", "c", "d"], "range": ["#0072BD", "#D95319", "#D63CD6", "#0A7F0A"]}, "legend": null}
      }
    },
    {
      "layer": [
        {
          "data": {"name": "fpThin"},
          "mark": {"type": "line", "color": "#EDB120", "strokeWidth": 1, "clip": true},
          "encoding": {
            "x": {"field": "x", "type": "quantitative"},
            "y": {"field": "v", "type": "quantitative", "scale": {"domain": [0, 0.177], "nice": false}, "axis": {"orient": "right", "values": [0, 0.05, 0.1, 0.15], "format": "~g", "title": null, "grid": false, "labelColor": "#EDB120", "domainColor": "#EDB120", "labelPadding": 8}}
          }
        },
        {
          "data": {"name": "fpDash"},
          "mark": {"type": "line", "color": "#EDB120", "strokeWidth": 1.3, "strokeDash": [5, 3], "clip": true},
          "encoding": {
            "x": {"field": "x", "type": "quantitative"},
            "y": {"field": "v", "type": "quantitative"}
          }
        },
        {
          "data": {"name": "fpThick"},
          "mark": {"type": "line", "color": "#EDB120", "strokeWidth": 5, "clip": true},
          "encoding": {
            "x": {"field": "x", "type": "quantitative"},
            "y": {"field": "v", "type": "quantitative"}
          }
        },
        {
          "data": {"name": "fpThick"},
          "mark": {"type": "point", "color": "#EDB120", "filled": true, "opacity": 1, "size": 22, "clip": true},
          "encoding": {
            "x": {"field": "x", "type": "quantitative"},
            "y": {"field": "v", "type": "quantitative"}
          }
        }
      ]
    }
  ],
  "resolve": {"scale": {"y": "independent"}}
},
{
  "width": 352, "height": 167,
  "title": {"text": "Thermal Amplitude", "dx": -21, "offset": -7},
  "data": {"name": "ta"},
  "mark": {"type": "line", "strokeWidth": 1.2, "clip": true},
  "encoding": {
    "x": {"field": "x", "type": "quantitative", "scale": {"domain": [-100, 100], "nice": false}, "axis": {"values": [-100, 0, 100], "title": null, "labelFlush": false, "grid": true}},
    "y": {"field": "y", "type": "quantitative", "scale": {"domain": [0, 0.05], "nice": false}, "axis": {"values": [0, 0.01, 0.02, 0.03, 0.04, 0.05], "format": "~g", "title": null, "grid": true}},
    "color": {"field": "s", "type": "nominal", "scale": {"domain": ["a", "b", "c", "d"], "range": ["#0072BD", "#D95319", "#D63CD6", "#0A7F0A"]}, "legend": null}
  }
},
{
  "width": 352, "height": 167,
  "title": {"text": "Thermal Phase", "dx": -15, "offset": 0},
  "layer": [
    {
      "data": {"name": "tp"},
      "mark": {"type": "line", "strokeWidth": 1.2, "clip": true},
      "encoding": {
        "x": {"field": "x", "type": "quantitative", "scale": {"domain": [-100, 100], "nice": false}, "axis": {"values": [-100, 0, 100], "title": null, "labelFlush": false, "grid": true}},
        "y": {"field": "y", "type": "quantitative", "scale": {"domain": [-3.1416, 3.1416], "nice": false}, "axis": {"values": [-2, 0, 2], "title": null, "grid": true}},
        "color": {"field": "s", "type": "nominal", "scale": {"domain": ["a", "b", "c", "d"], "range": ["#0072BD", "#D95319", "#D63CD6", "#0A7F0A"]}, "legend": null}
      }
    },
    {
      "layer": [
        {
          "data": {"name": "tpThin"},
          "mark": {"type": "line", "color": "#EDB120", "strokeWidth": 1, "clip": true},
          "encoding": {
            "x": {"field": "x", "type": "quantitative"},
            "y": {"field": "v", "type": "quantitative", "scale": {"domain": [0, 0.177], "nice": false}, "axis": {"orient": "right", "values": [0, 0.05, 0.1, 0.15], "format": "~g", "title": null, "grid": false, "labelColor": "#EDB120", "domainColor": "#EDB120", "labelPadding": 8}}
          }
        },
        {
          "data": {"name": "tpDash"},
          "mark": {"type": "line", "color": "#EDB120", "strokeWidth": 1.3, "strokeDash": [5, 3], "clip": true},
          "encoding": {
            "x": {"field": "x", "type": "quantitative"},
            "y": {"field": "v", "type": "quantitative"}
          }
        },
        {
          "data": {"name": "tpThick"},
          "mark": {"type": "line", "color": "#EDB120", "strokeWidth": 2.5, "clip": true},
          "encoding": {
            "x": {"field": "x", "type": "quantitative"},
            "y": {"field": "v", "type": "quantitative"}
          }
        },
        {
          "data": {"name": "tpThick"},
          "mark": {"type": "point", "color": "#EDB120", "filled": true, "opacity": 1, "size": 16, "clip": true},
          "encoding": {
            "x": {"field": "x", "type": "quantitative"},
            "y": {"field": "v", "type": "quantitative"}
          }
        }
      ]
    }
  ],
  "resolve": {"scale": {"y": "independent"}}
}
]
}
